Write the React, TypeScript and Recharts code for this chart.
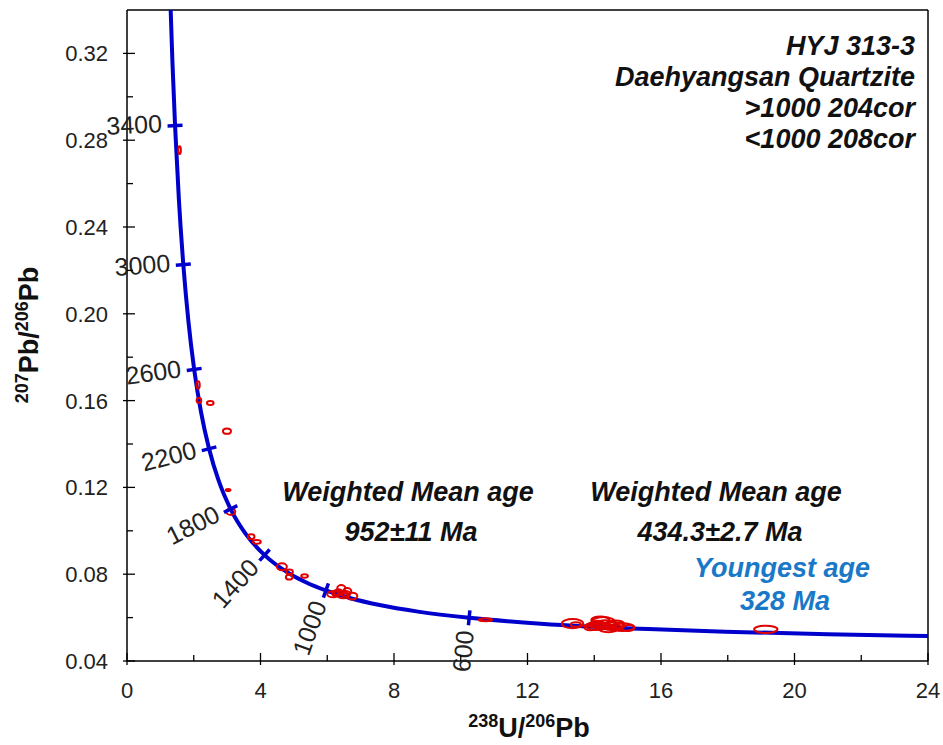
import React from 'react';
import { ComposedChart, Line, Scatter, XAxis, YAxis, ReferenceLine } from 'recharts';

// Concordia curve (Tera-Wasserburg), ages in Ma
const concordiaAge = [3700, 3550, 3400, 3200, 3000, 2800, 2600, 2400, 2200, 2000, 1800, 1600, 1400, 1200, 1100, 1000, 900, 800, 700, 600, 500, 400, 350, 300, 263];
const concordiaX = [1.2899, 1.3616, 1.4398, 1.5557, 1.6875, 1.8384, 2.0129, 2.217, 2.4586, 2.749, 3.1046, 3.5497, 4.1227, 4.8875, 5.3746, 5.9593, 6.6743, 7.5684, 8.7182, 10.2518, 12.3993, 15.6212, 17.9228, 20.9917, 24.0144];
const concordiaY = [0.34839, 0.3159, 0.28675, 0.25242, 0.22266, 0.19682, 0.17437, 0.15483, 0.13782, 0.12299, 0.11004, 0.09872, 0.08881, 0.08012, 0.07619, 0.0725, 0.06904, 0.0658, 0.06276, 0.0599, 0.05722, 0.0547, 0.0535, 0.05233, 0.05149];

// Age marks on the concordia
const ageMarks = [3400, 3000, 2600, 2200, 1800, 1400, 1000, 600];

// Spot analyses (ratio, ratio, 2s errors)
const spotX = [1.575, 2.13, 2.156, 2.495, 2.995, 3.03, 3.11, 3.72, 3.89, 4.64, 4.87, 4.86, 5.32, 6.42, 6.18, 6.48, 6.75, 6.33, 6.6, 6.25, 6.55, 10.74, 13.35, 14.27, 14.06, 14.54, 14.84, 15.02, 14.18, 13.88, 14.42, 14.35, 14.65, 14.1, 13.45, 19.14, 6.4, 14.3, 14.6, 13.95];
const spotY = [0.2754, 0.1672, 0.1601, 0.1589, 0.1459, 0.1188, 0.1088, 0.0973, 0.0949, 0.0834, 0.0811, 0.0786, 0.0792, 0.0736, 0.0708, 0.0703, 0.0699, 0.0717, 0.0722, 0.0712, 0.071, 0.059, 0.0572, 0.0575, 0.0561, 0.0561, 0.0556, 0.0552, 0.0589, 0.0556, 0.0547, 0.0568, 0.057, 0.057, 0.0568, 0.0546, 0.0714, 0.0563, 0.0558, 0.0565];
const spotErrX = [0.04, 0.05, 0.07, 0.1, 0.12, 0.07, 0.135, 0.1, 0.12, 0.15, 0.1, 0.1, 0.1, 0.12, 0.18, 0.18, 0.15, 0.12, 0.12, 0.1, 0.14, 0.2, 0.32, 0.36, 0.3, 0.36, 0.36, 0.18, 0.27, 0.18, 0.27, 0.3, 0.25, 0.22, 0.15, 0.35, 0.08, 0.2, 0.2, 0.12];
const spotErrY = [0.0018, 0.0017, 0.0011, 0.0009, 0.0012, 0.0005, 0.0015, 0.0011, 0.0009, 0.0016, 0.0011, 0.0011, 0.0008, 0.0014, 0.0014, 0.0014, 0.0016, 0.0014, 0.0014, 0.0012, 0.0013, 0.0007, 0.0021, 0.0028, 0.0018, 0.0018, 0.0018, 0.0014, 0.0016, 0.0014, 0.0014, 0.002, 0.0017, 0.0015, 0.001, 0.0017, 0.0008, 0.0012, 0.001, 0.0008];

const xTicks = [0, 2, 4, 6, 8, 10, 12, 14, 16, 18, 20, 22, 24];
const xTickLabels = ['0', '', '4', '', '8', '', '12', '', '16', '', '20', '', '24'];
const yTicks = [0.04, 0.06, 0.08, 0.1, 0.12, 0.14, 0.16, 0.18, 0.2, 0.22, 0.24, 0.26, 0.28, 0.3, 0.32];
const yTickLabels = ['0.04', '', '0.08', '', '0.12', '', '0.16', '', '0.20', '', '0.24', '', '0.28', '', '0.32'];

const X_DOMAIN: [number, number] = [0, 24];
const Y_DOMAIN: [number, number] = [0.04, 0.34];

const W = 943;
const H = 745;
const MARGIN = { top: 10, right: 15, bottom: 0, left: 0 };
const Y_AXIS_W = 127;
const X_AXIS_H = 84;
const PLOT_W = W - MARGIN.left - MARGIN.right - Y_AXIS_W;
const PLOT_H = H - MARGIN.top - MARGIN.bottom - X_AXIS_H;
const PX_PER_X = PLOT_W / (X_DOMAIN[1] - X_DOMAIN[0]);
const PX_PER_Y = PLOT_H / (Y_DOMAIN[1] - Y_DOMAIN[0]);

const FONT = '"Liberation Sans", Arial, Helvetica, sans-serif';
const CURVE = '#0000cc';
const SPOT = '#e00000';

const concordiaData = concordiaAge.map((a, i) => ({ age: a, x: concordiaX[i], y: concordiaY[i] }));
const markData = ageMarks.map((a) => {
  const idx = concordiaAge.indexOf(a);
  return { age: a, idx, x: concordiaX[idx], y: concordiaY[idx] };
});
const spotData = spotX.map((x, i) => ({ x, y: spotY[i], ex: spotErrX[i], ey: spotErrY[i] }));

const XTick = (props: any) => {
  const { x, y, payload } = props;
  const i = xTicks.indexOf(payload.value);
  const label = i >= 0 ? xTickLabels[i] : '';
  const major = label !== '';
  return (
    <g>
      <line x1={x} x2={x} y1={major ? y - 8 : y - 6} y2={major ? y + 4 : y} stroke="#000" strokeWidth={1.3} />
      {major && (
        <text x={x} y={y + 37} textAnchor="middle" fontSize={22} fill="#222" fontFamily={FONT}>
          {label}
        </text>
      )}
    </g>
  );
};

const YTick = (props: any) => {
  const { x, y, payload } = props;
  const i = yTicks.findIndex((t) => Math.abs(t - payload.value) < 1e-9);
  const label = i >= 0 ? yTickLabels[i] : '';
  const major = label !== '';
  return (
    <g>
      <line x1={major ? x - 4 : x} x2={major ? x + 8 : x + 6} y1={y} y2={y} stroke="#000" strokeWidth={1.3} />
      {major && (
        <text x={x - 19} y={y + 8} textAnchor="end" fontSize={22} fill="#222" fontFamily={FONT}>
          {label}
        </text>
      )}
    </g>
  );
};

const SpotShape = (props: any) => {
  const { cx, cy, payload } = props;
  if (cx == null || cy == null) return <g />;
  return (
    <ellipse cx={cx} cy={cy} rx={payload.ex * PX_PER_X} ry={payload.ey * PX_PER_Y} fill="none" stroke={SPOT} strokeWidth={2} />
  );
};

const AgeMarkShape = (props: any) => {
  const { cx, cy, payload } = props;
  if (cx == null || cy == null) return <g />;
  const i = payload.idx;
  const dxp = (concordiaX[i + 1] - concordiaX[i - 1]) * PX_PER_X;
  const dyp = -(concordiaY[i + 1] - concordiaY[i - 1]) * PX_PER_Y;
  const len = Math.hypot(dxp, dyp);
  const tx = dxp / len;
  const ty = dyp / len;
  const nx = -ty;
  const ny = tx;
  const half = 7.5;
  const gap = 13;
  const lx = cx + nx * gap;
  const ly = cy + ny * gap;
  const angle = (Math.atan2(-tx, ty) * 180) / Math.PI;
  return (
    <g>
      <line x1={cx - nx * half} y1={cy - ny * half} x2={cx + nx * half} y2={cy + ny * half} stroke={CURVE} strokeWidth={3.5} />
      <text
        x={lx}
        y={ly}
        transform={`rotate(${angle}, ${lx}, ${ly})`}
        textAnchor="end"
        dominantBaseline="central"
        dy={-3}
        fontSize={25}
        fill="#222"
        fontFamily={FONT}
      >
        {String(payload.age)}
      </text>
    </g>
  );
};

const annoStyle = { fontFamily: FONT, fontWeight: 700, fontStyle: 'italic' as const, fontSize: 27 };

export default function App() {
  return (
    <div style={{ position: 'absolute', left: 0, top: 0, width: W, height: H, background: '#fff' }}>
      <ComposedChart width={W} height={H} margin={MARGIN}>
        <XAxis
          type="number"
          dataKey="x"
          domain={X_DOMAIN}
          ticks={xTicks}
          interval={0}
          tick={<XTick />}
          tickLine={false}
          tickSize={0}
          tickMargin={0}
          axisLine={{ stroke: '#000', strokeWidth: 1.5 }}
          height={X_AXIS_H}
          allowDataOverflow
        />
        <YAxis
          type="number"
          dataKey="y"
          domain={Y_DOMAIN}
          ticks={yTicks}
          interval={0}
          tick={<YTick />}
          tickLine={false}
          tickSize={0}
          tickMargin={0}
          axisLine={{ stroke: '#000', strokeWidth: 1.5 }}
          width={Y_AXIS_W}
          allowDataOverflow
        />
        <XAxis xAxisId="m" type="number" dataKey="x" domain={X_DOMAIN} hide />
        <YAxis yAxisId="m" type="number" dataKey="y" domain={Y_DOMAIN} hide />
        <ReferenceLine y={0.34} stroke="#000" strokeWidth={1.5} />
        <ReferenceLine x={24} stroke="#000" strokeWidth={1.5} />
        <Line
          data={concordiaData}
          dataKey="y"
          type="monotone"
          stroke={CURVE}
          strokeWidth={4}
          dot={false}
          activeDot={false}
          isAnimationActive={false}
        />
        <Scatter data={spotData} dataKey="y" shape={<SpotShape />} isAnimationActive={false} />
        <Scatter
          data={markData}
          dataKey="y"
          xAxisId="m"
          yAxisId="m"
          shape={<AgeMarkShape />}
          isAnimationActive={false}
        />
      </ComposedChart>
      <svg width={W} height={H} style={{ position: 'absolute', left: 0, top: 0, pointerEvents: 'none' }}>
        <g fill="#111" style={annoStyle}>
          <text x={915} y={55} textAnchor="end">HYJ 313-3</text>
          <text x={915} y={86} textAnchor="end">Daehyangsan Quartzite</text>
          <text x={915} y={117} textAnchor="end">&gt;1000 204cor</text>
          <text x={915} y={148} textAnchor="end">&lt;1000 208cor</text>
        </g>
        <g fill="#111" style={annoStyle}>
          <text x={408} y={501} textAnchor="middle">Weighted Mean age</text>
          <text x={411} y={541} textAnchor="middle">952±11 Ma</text>
          <text x={716} y={501} textAnchor="middle">Weighted Mean age</text>
          <text x={720} y={541} textAnchor="middle">434.3±2.7 Ma</text>
        </g>
        <g fill="#1a78c8" style={annoStyle}>
          <text x={782} y={577} textAnchor="middle">Youngest age</text>
          <text x={785} y={610} textAnchor="middle">328 Ma</text>
        </g>
        <text x={529} y={737} textAnchor="middle" fontFamily={FONT} fontWeight={700} fontSize={27} fill="#111">
          <tspan fontSize={18} dy={-10}>238</tspan>
          <tspan dy={10}>U/</tspan>
          <tspan fontSize={18} dy={-10}>206</tspan>
          <tspan dy={10}>Pb</tspan>
        </text>
        <text
          x={38}
          y={335}
          transform="rotate(-90, 38, 335)"
          textAnchor="middle"
          fontFamily={FONT}
          fontWeight={700}
          fontSize={27}
          fill="#111"
        >
          <tspan fontSize={18} dy={-10}>207</tspan>
          <tspan dy={10}>Pb/</tspan>
          <tspan fontSize={18} dy={-10}>206</tspan>
          <tspan dy={10}>Pb</tspan>
        </text>
      </svg>
    </div>
  );
}
